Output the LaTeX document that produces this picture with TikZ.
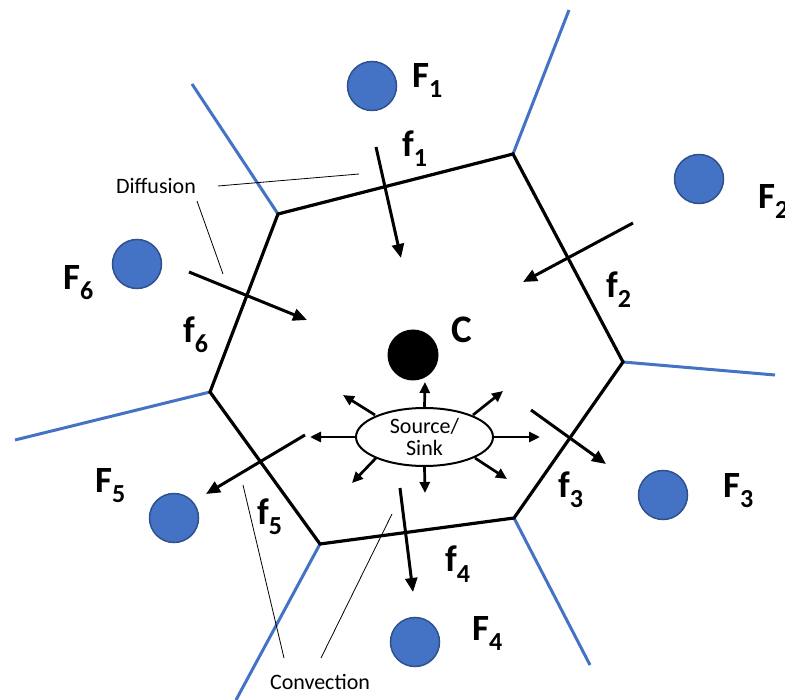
\documentclass[tikz,border=0pt]{standalone}
\usepackage{fontspec}
\setmainfont{Carlito}
\usetikzlibrary{arrows.meta,shapes.geometric}
\definecolor{pblue}{HTML}{4472C4}
\definecolor{pnavy}{HTML}{2F528F}
\newcommand\lblsub[1]{\raisebox{-10pt}{\fontsize{26}{26}\selectfont #1}}
\begin{document}
\begin{tikzpicture}[x=1pt,y=-1pt,
 blueline/.style={pblue,line width=3pt},
 hexline/.style={black,line width=3.2pt,line join=miter},
 flux/.style={line width=3pt,-{Triangle[length=14pt,width=12pt]}},
 smallarr/.style={line width=2.7pt,-{Triangle[length=11pt,width=10pt]}},
 cell/.style={circle,fill=pblue,draw=pnavy,line width=1.5pt,minimum size=49pt,inner sep=0},
 lbl/.style={anchor=base west,inner sep=0,font=\bfseries\fontsize{37}{37}\selectfont},
 note/.style={font=\fontsize{22}{22}\selectfont,inner sep=0},
 thinline/.style={line width=0.8pt}]
\useasboundingbox (0,0) rectangle (785,700);
% hexagon vertices
\coordinate (v1) at (278,214);
\coordinate (v2) at (513,154);
\coordinate (v3) at (623,362);
\coordinate (v4) at (514,518);
\coordinate (v5) at (320,544);
\coordinate (v6) at (210,392);
% blue line ends
\coordinate (b1) at (192,84);
\coordinate (b2) at (569,10);
\coordinate (b3) at (775,375);
\coordinate (b4) at (590,665);
\coordinate (b5) at (236,700);
\coordinate (b6) at (15,440);
\draw[blueline] (v1) -- (b1);
\draw[blueline] (v2) -- (b2);
\draw[blueline] (v3) -- (b3);
\draw[blueline] (v4) -- (b4);
\draw[blueline] (v5) -- (b5);
\draw[blueline] (v6) -- (b6);
\draw[hexline] (v1) -- (v2) -- (v3) -- (v4) -- (v5) -- (v6) -- cycle;
% neighbour cells
\node[cell] (F1) at (372,86) {};
\node[cell] (F2) at (699,179) {};
\node[cell] (F3) at (663,495) {};
\node[cell] (F4) at (415,642) {};
\node[cell] (F5) at (174,518) {};
\node[cell] (F6) at (137,264) {};
\node[circle,fill=black,minimum size=51pt,inner sep=0] (C) at (413,355) {};
% labels
\node[lbl] (lF1) at (412,88) {F\lblsub{1}};
\node[lbl] (lf1) at (402,157) {f\lblsub{1}};
\node[lbl] (lF2) at (758,209) {F\lblsub{2}};
\node[lbl] (lf2) at (606,298) {f\lblsub{2}};
\node[lbl] (lF3) at (723,497) {F\lblsub{3}};
\node[lbl] (lf3) at (558,497) {f\lblsub{3}};
\node[lbl] (lF4) at (472,640) {F\lblsub{4}};
\node[lbl] (lf4) at (445,572) {f\lblsub{4}};
\node[lbl] (lF5) at (95,493) {F\lblsub{5}};
\node[lbl] (lf5) at (257,525) {f\lblsub{5}};
\node[lbl] (lF6) at (63,290) {F\lblsub{6}};
\node[lbl] (lf6) at (183,343) {f\lblsub{6}};
\node[lbl,font=\bfseries\fontsize{39}{39}\selectfont] (lC) at (451,343) {C};
% flux arrows
\coordinate (a1s) at (376,147); \coordinate (a1e) at (401,258);
\coordinate (a2s) at (633,223); \coordinate (a2e) at (523,282);
\coordinate (a3s) at (531,410); \coordinate (a3e) at (606,464);
\coordinate (a4s) at (400,488); \coordinate (a4e) at (413,592);
\coordinate (a5s) at (305,435); \coordinate (a5e) at (206,494);
\coordinate (a6s) at (189,272); \coordinate (a6e) at (307,320);
\draw[flux] (a1s) -- (a1e);
\draw[flux] (a2s) -- (a2e);
\draw[flux] (a3s) -- (a3e);
\draw[flux] (a4s) -- (a4e);
\draw[flux] (a5s) -- (a5e);
\draw[flux] (a6s) -- (a6e);
% source / sink
\node[ellipse,draw,line width=2pt,minimum width=137pt,minimum height=58pt,inner sep=0,
  note,align=center] (ss) at (424.5,437) {Source/\\Sink};
\coordinate (s1) at (425,382);
\coordinate (s2) at (310,437);
\coordinate (s3) at (540,437);
\coordinate (s4) at (425,493);
\coordinate (s5) at (343,395);
\coordinate (s6) at (503,391);
\coordinate (s7) at (352,483);
\coordinate (s8) at (507,479);
\draw[smallarr] (ss.north) -- (s1);
\draw[smallarr] (ss.west) -- (s2);
\draw[smallarr] (ss.east) -- (s3);
\draw[smallarr] (ss.south) -- (s4);
\draw[smallarr] (375,415) -- (s5);
\draw[smallarr] (473,415) -- (s6);
\draw[smallarr] (376,458) -- (s7);
\draw[smallarr] (475,458) -- (s8);
% callouts
\node[note] (diff) at (156,186) {Diffusion};
\coordinate (d1s) at (218,186); \coordinate (d1e) at (359,174);
\coordinate (d2s) at (197,201); \coordinate (d2e) at (223,274);
\draw[thinline] (d1s) -- (d1e);
\draw[thinline] (d2s) -- (d2e);
\node[note] (conv) at (320,682) {Convection};
\coordinate (c1s) at (284,658); \coordinate (c1e) at (243,485);
\coordinate (c2s) at (321,658); \coordinate (c2e) at (392,514);
\draw[thinline] (c1s) -- (c1e);
\draw[thinline] (c2s) -- (c2e);
\end{tikzpicture}
\end{document}
